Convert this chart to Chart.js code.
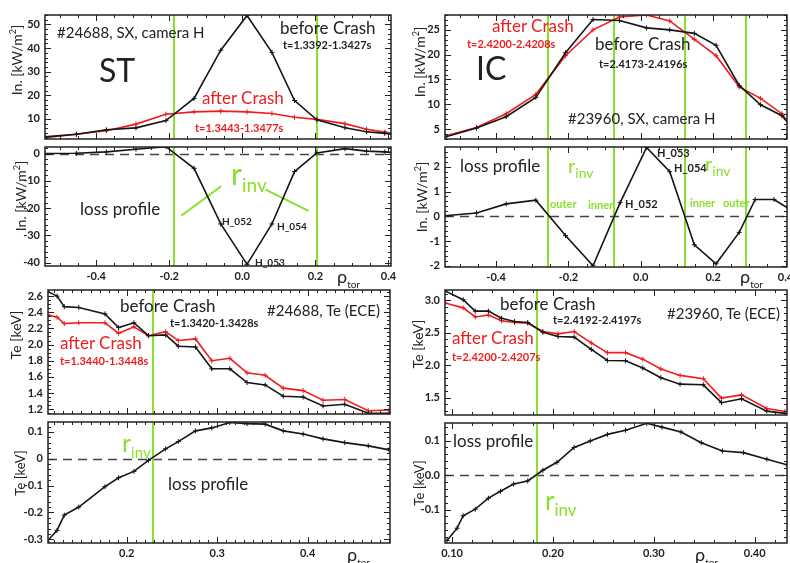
<!DOCTYPE html>
<html>
<head>
<meta charset="utf-8">
<script src="https://cdn.jsdelivr.net/npm/chart.js@4.4.1/dist/chart.umd.min.js"></script>
<style>
  html, body { margin: 0; padding: 0; background: #fff; overflow: hidden; }
  #stage { position: relative; width: 790px; height: 563px; overflow: hidden; font-family: Lato, 'Open Sans', sans-serif; color: #222; }
  canvas { position: absolute; }
  .t { position: absolute; white-space: nowrap; line-height: 1; transform: translateY(-50%); }
  .yt { position: absolute; white-space: nowrap; line-height: 1; transform: translate(-50%, -50%) rotate(-90deg); }
  sub, sup { line-height: 0; }
</style>
</head>
<body>
<div id="stage"></div>
<script>
  // --- SX camera H, ST case (#24688)
  const rhoST = [-0.54, -0.454, -0.372, -0.291, -0.209, -0.132, -0.059, 0.013, 0.081, 0.143, 0.204, 0.281, 0.34, 0.39, 0.41];
  const sxBeforeST = [2.4, 3.5, 5.4, 6.2, 9.3, 18.7, 39.1, 53.8, 38.2, 17.8, 9.6, 6.3, 4.6, 3.9, 3.5];
  const sxAfterST = [2.1, 3.5, 5.0, 7.8, 12.0, 13.0, 13.3, 13.0, 12.3, 10.7, 9.8, 8.0, 5.6, 4.4, 3.8];
  const sxLossST = [0.0, 0.1, 0.6, 1.6, 2.5, -5.4, -25.8, -40.6, -25.8, -6.6, 0.2, 1.8, 0.9, 0.6, 0.4];

  // --- SX camera H, IC case (#23960)
  const rhoIC = [-0.541, -0.454, -0.372, -0.29, -0.208, -0.132, -0.059, 0.016, 0.08, 0.148, 0.208, 0.272, 0.331, 0.39, 0.41];
  const sxBeforeIC = [3.4, 5.2, 7.5, 11.4, 20.4, 27.1, 26.9, 25.4, 25.0, 24.3, 21.9, 13.8, 9.9, 7.7, 6.0];
  const sxAfterIC = [3.6, 5.3, 8.1, 12.0, 19.8, 25.0, 27.6, 28.0, 26.8, 23.1, 19.8, 13.5, 11.2, 8.1, 6.0];
  const rhoLossIC = [-0.541, -0.454, -0.372, -0.29, -0.208, -0.132, -0.057, 0.016, 0.08, 0.148, 0.208, 0.272, 0.316, 0.368, 0.41];
  const sxLossIC = [0.02, 0.13, 0.5, 0.65, -0.78, -2.0, 0.55, 2.78, 1.8, -1.15, -1.92, -0.65, 0.68, 0.68, 0.3];

  // --- Te (ECE), ST case
  const rhoEceST = [0.112, 0.123, 0.131, 0.147, 0.176, 0.191, 0.208, 0.224, 0.243, 0.257, 0.276, 0.294, 0.314, 0.333, 0.353, 0.373, 0.395, 0.417, 0.441, 0.467, 0.49];
  const teBeforeST = [2.66, 2.60, 2.47, 2.46, 2.38, 2.21, 2.27, 2.11, 2.12, 1.98, 1.97, 1.70, 1.70, 1.53, 1.50, 1.36, 1.35, 1.24, 1.26, 1.15, 1.15];
  const teAfterST = [2.37, 2.34, 2.26, 2.27, 2.27, 2.14, 2.22, 2.11, 2.16, 2.05, 2.07, 1.80, 1.83, 1.65, 1.62, 1.46, 1.43, 1.31, 1.32, 1.18, 1.19];
  const teLossST = [-0.308, -0.267, -0.21, -0.18, -0.104, -0.071, -0.047, -0.006, 0.037, 0.064, 0.104, 0.115, 0.135, 0.131, 0.129, 0.104, 0.092, 0.074, 0.06, 0.048, 0.033];

  // --- Te (ECE), IC case
  const rhoEceIC = [0.093, 0.111, 0.123, 0.136, 0.149, 0.162, 0.175, 0.19, 0.205, 0.221, 0.238, 0.254, 0.272, 0.289, 0.307, 0.326, 0.349, 0.367, 0.387, 0.412, 0.43];
  const teBeforeIC = [3.145, 3.01, 2.835, 2.835, 2.725, 2.675, 2.66, 2.51, 2.445, 2.435, 2.245, 2.075, 2.07, 1.96, 1.81, 1.71, 1.70, 1.425, 1.485, 1.295, 1.26];
  const teAfterIC = [2.96, 2.885, 2.745, 2.775, 2.685, 2.66, 2.65, 2.52, 2.485, 2.52, 2.345, 2.195, 2.195, 2.095, 1.945, 1.845, 1.795, 1.495, 1.545, 1.335, 1.29];
  const rhoTeLossIC = [0.095, 0.105, 0.111, 0.123, 0.136, 0.148, 0.161, 0.175, 0.19, 0.204, 0.221, 0.237, 0.254, 0.272, 0.293, 0.308, 0.327, 0.347, 0.368, 0.389, 0.412, 0.432];
  const teLossIC = [-0.19, -0.154, -0.118, -0.099, -0.067, -0.047, -0.026, -0.017, 0.014, 0.037, 0.08, 0.099, 0.118, 0.13, 0.15, 0.139, 0.125, 0.094, 0.07, 0.065, 0.046, 0.03];

  // inversion radii
  const rinvST = [-0.187, 0.204];
  const rinvIC = [-0.256, -0.073, 0.121, 0.292];
  const rinvEceST = [0.229];
  const rinvEceIC = [0.184];

  // tick labels
  const ticksRhoSX = [-0.4, -0.2, 0.0, 0.2, 0.4];
  const ticksRhoEceST = [0.2, 0.3, 0.4];
  const ticksRhoEceIC = [0.1, 0.2, 0.3, 0.4];
  const ticksSxST = [10, 20, 30, 40, 50];
  const ticksLossST = [-40, -30, -20, -10, 0];
  const ticksSxIC = [5, 10, 15, 20, 25];
  const ticksLossIC = [-2, -1, 0, 1, 2];
  const ticksTeST = [1.2, 1.4, 1.6, 1.8, 2.0, 2.2, 2.4, 2.6];
  const ticksTeLossST = [-0.3, -0.2, -0.1, 0, 0.1];
  const ticksTeIC = [1.5, 2.0, 2.5, 3.0];
  const ticksTeLossIC = [-0.1, 0, 0.1];

  const GREEN = '#88e02a';
  const RED = '#ee1d1d';
  const BLACK = '#151515';
  const stage = document.getElementById('stage');
  const tickFont = { family: 'Lato', size: 11, weight: 'bold' };

  const framePlugin = {
    id: 'frame',
    beforeDatasetsDraw(chart, args, o) {
      const { ctx, chartArea: a, scales: { x, y } } = chart;
      ctx.save();
      if (o.zero) {
        const py = Math.round(y.getPixelForValue(0)) + 0.5;
        ctx.strokeStyle = '#444';
        ctx.lineWidth = 1.5;
        ctx.setLineDash([9, 6]);
        ctx.beginPath();
        ctx.moveTo(a.left, py);
        ctx.lineTo(a.right, py);
        ctx.stroke();
        ctx.setLineDash([]);
      }
      ctx.strokeStyle = GREEN;
      ctx.lineWidth = 2;
      (o.rinv || []).forEach((v) => {
        const px = Math.round(x.getPixelForValue(v));
        ctx.beginPath();
        ctx.moveTo(px, a.top);
        ctx.lineTo(px, a.bottom);
        ctx.stroke();
      });
      (o.pointers || []).forEach(([x0, y0, x1, y1]) => {
        ctx.beginPath();
        ctx.moveTo(x.getPixelForValue(x0), y.getPixelForValue(y0));
        ctx.lineTo(x.getPixelForValue(x1), y.getPixelForValue(y1));
        ctx.stroke();
      });
      ctx.restore();
    },
    afterDraw(chart, args, o) {
      const { ctx, chartArea: a, scales: { x, y } } = chart;
      ctx.save();
      ctx.strokeStyle = '#222';
      ctx.lineWidth = 1.5;
      ctx.strokeRect(a.left, a.top, a.right - a.left, a.bottom - a.top);
      ctx.lineWidth = 1;
      const marks = (scale, major, step, horizontal) => {
        const vals = [];
        for (let v = Math.ceil(scale.min / step) * step; v <= scale.max + 1e-9; v += step) {
          vals.push([v, 3]);
        }
        major.forEach((v) => vals.push([v, 6]));
        vals.forEach(([v, len]) => {
          if (v < scale.min || v > scale.max) return;
          const p = Math.round(scale.getPixelForValue(v)) + 0.5;
          ctx.beginPath();
          if (horizontal) {
            ctx.moveTo(p, a.bottom); ctx.lineTo(p, a.bottom - len);
            ctx.moveTo(p, a.top); ctx.lineTo(p, a.top + len);
          } else {
            ctx.moveTo(a.left, p); ctx.lineTo(a.left + len, p);
            ctx.moveTo(a.right, p); ctx.lineTo(a.right - len, p);
          }
          ctx.stroke();
        });
      };
      marks(x, o.xTicks, o.xMinor, true);
      marks(y, o.yTicks, o.yMinor, false);
      ctx.restore();
    },
  };

  function panel(p) {
    const padL = 44, padT = 3, padR = 3;
    const xh = p.xLabels ? 20 : 3;
    const canvas = document.createElement('canvas');
    canvas.width = p.box.r - p.box.l + padL + padR;
    canvas.height = p.box.b - p.box.t + padT + xh;
    canvas.style.left = (p.box.l - padL) + 'px';
    canvas.style.top = (p.box.t - padT) + 'px';
    stage.appendChild(canvas);

    new Chart(canvas, {
      type: 'line',
      data: {
        datasets: p.series.map((s) => ({
          data: s.x.map((xv, i) => ({ x: xv, y: s.y[i] })),
          borderColor: s.color,
          backgroundColor: s.color,
          borderWidth: 1.6,
          pointStyle: 'cross',
          pointRadius: 2.5,
          pointBorderWidth: 1,
          tension: 0,
        })),
      },
      options: {
        responsive: false,
        animation: false,
        devicePixelRatio: 1,
        layout: { padding: { left: 0, top: padT, right: padR, bottom: 0 } },
        plugins: {
          legend: { display: false },
          tooltip: { enabled: false },
          frame: {
            zero: p.zero, rinv: p.rinv, pointers: p.pointers,
            xTicks: p.xTicks, xMinor: p.xMinor, yTicks: p.yTicks, yMinor: p.yMinor,
          },
        },
        scales: {
          x: {
            type: 'linear', min: p.xRange[0], max: p.xRange[1],
            grid: { display: false, drawTicks: false }, border: { display: false },
            afterBuildTicks: (s) => { s.ticks = p.xTicks.map((v) => ({ value: v })); },
            afterFit: (s) => { s.height = xh; s.paddingLeft = 0; s.paddingRight = 0; },
            ticks: { display: !!p.xLabels, padding: 4, color: '#222', font: tickFont, maxRotation: 0, callback: p.xFmt },
          },
          y: {
            type: 'linear', min: p.yRange[0], max: p.yRange[1],
            grid: { display: false, drawTicks: false }, border: { display: false },
            afterBuildTicks: (s) => { s.ticks = p.yTicks.map((v) => ({ value: v })); },
            afterFit: (s) => { s.width = padL; s.paddingTop = 0; s.paddingBottom = 0; },
            ticks: { padding: 5, color: '#222', font: tickFont, callback: p.yFmt },
          },
        },
      },
      plugins: [framePlugin],
    });
  }

  const f0 = (v) => v.toFixed(0);
  const f1 = (v) => v.toFixed(1);
  const f2 = (v) => v.toFixed(2);
  const f1z = (v) => (v === 0 ? '0' : v.toFixed(1));

  // left column
  panel({
    box: { l: 45, t: 13, r: 393, b: 141 }, xRange: [-0.54, 0.407], yRange: [1.5, 54],
    xTicks: ticksRhoSX, xMinor: 0.05, yTicks: ticksSxST, yMinor: 2, yFmt: f0, xFmt: f1,
    rinv: rinvST,
    series: [{ x: rhoST, y: sxBeforeST, color: BLACK }, { x: rhoST, y: sxAfterST, color: RED }],
  });
  panel({
    box: { l: 45, t: 145, r: 393, b: 266 }, xRange: [-0.54, 0.407], yRange: [-41.2, 2.4], xLabels: true,
    xTicks: ticksRhoSX, xMinor: 0.05, yTicks: ticksLossST, yMinor: 2, yFmt: f0, xFmt: f1,
    rinv: rinvST, zero: true,
    pointers: [[-0.167, -22.8, -0.058, -12], [0.064, -13.2, 0.181, -21]],
    series: [{ x: rhoST, y: sxLossST, color: BLACK }],
  });
  panel({
    box: { l: 48, t: 288, r: 392, b: 416 }, xRange: [0.113, 0.491], yRange: [1.14, 2.676],
    xTicks: ticksRhoEceST, xMinor: 0.01, yTicks: ticksTeST, yMinor: 0.05, yFmt: f1, xFmt: f1,
    rinv: rinvEceST,
    series: [{ x: rhoEceST, y: teBeforeST, color: BLACK }, { x: rhoEceST, y: teAfterST, color: RED }],
  });
  panel({
    box: { l: 48, t: 420, r: 392, b: 543 }, xRange: [0.113, 0.491], yRange: [-0.314, 0.137], xLabels: true,
    xTicks: ticksRhoEceST, xMinor: 0.01, yTicks: ticksTeLossST, yMinor: 0.02, yFmt: f1z, xFmt: f1,
    rinv: rinvEceST, zero: true,
    series: [{ x: rhoEceST, y: teLossST, color: BLACK }],
  });

  // right column
  panel({
    box: { l: 445, t: 13, r: 789, b: 141 }, xRange: [-0.541, 0.404], yRange: [3.0, 28.0],
    xTicks: ticksRhoSX, xMinor: 0.05, yTicks: ticksSxIC, yMinor: 1, yFmt: f0, xFmt: f1,
    rinv: rinvIC,
    series: [{ x: rhoIC, y: sxBeforeIC, color: BLACK }, { x: rhoIC, y: sxAfterIC, color: RED }],
  });
  panel({
    box: { l: 445, t: 145, r: 789, b: 267 }, xRange: [-0.541, 0.404], yRange: [-2.05, 2.8], xLabels: true,
    xTicks: ticksRhoSX, xMinor: 0.05, yTicks: ticksLossIC, yMinor: 0.2, yFmt: f0, xFmt: f1,
    rinv: rinvIC, zero: true,
    series: [{ x: rhoLossIC, y: sxLossIC, color: BLACK }],
  });
  panel({
    box: { l: 445, t: 288, r: 789, b: 417 }, xRange: [0.093, 0.432], yRange: [1.235, 3.16],
    xTicks: ticksRhoEceIC, xMinor: 0.02, yTicks: ticksTeIC, yMinor: 0.1, yFmt: f1, xFmt: f2,
    rinv: rinvEceIC,
    series: [{ x: rhoEceIC, y: teBeforeIC, color: BLACK }, { x: rhoEceIC, y: teAfterIC, color: RED }],
  });
  panel({
    box: { l: 445, t: 421, r: 789, b: 543 }, xRange: [0.093, 0.432], yRange: [-0.197, 0.151], xLabels: true,
    xTicks: ticksRhoEceIC, xMinor: 0.02, yTicks: ticksTeLossIC, yMinor: 0.02, yFmt: f1, xFmt: f2,
    rinv: rinvEceIC, zero: true,
    series: [{ x: rhoTeLossIC, y: teLossIC, color: BLACK }],
  });

  // text overlays
  function txt(html, x, y, size, color, weight) {
    const d = document.createElement('div');
    d.className = 't';
    d.innerHTML = html;
    d.style.left = x + 'px';
    d.style.top = y + 'px';
    d.style.fontSize = size + 'px';
    if (color) d.style.color = color;
    if (weight) d.style.fontWeight = weight;
    stage.appendChild(d);
  }
  function ytitle(html, x, y, size) {
    const d = document.createElement('div');
    d.className = 'yt';
    d.innerHTML = html;
    d.style.left = x + 'px';
    d.style.top = y + 'px';
    d.style.fontSize = size + 'px';
    stage.appendChild(d);
  }
  const rinvHtml = (r, s) => `<span style="font-size:${r}px">r</span><sub style="font-size:${s}px">inv</sub>`;
  const rhoHtml = '<span style="font-size:18px">ρ</span><sub style="font-size:10px">tor</sub>';
  const kw = 'In. [kW/m<sup style="font-size:9px">2</sup>]';

  ytitle(kw, 17, 60, 14);
  ytitle(kw, 21, 196, 14);
  ytitle(kw, 420, 62, 14);
  ytitle(kw, 422, 197, 14);
  ytitle('Te [keV]', 16, 335, 14);
  ytitle('Te [keV]', 20, 473, 13);
  ytitle('Te [keV]', 418, 344, 14);
  ytitle('Te [keV]', 419, 483, 13);

  // top-left
  txt('#24688, SX, camera H', 57, 32, 15);
  txt('ST', 99, 70, 32);
  txt('before Crash', 280, 27, 17);
  txt('t=1.3392-1.3427s', 283, 44, 11, null, 'bold');
  txt('after Crash', 202, 97, 17, RED);
  txt('t=1.3443-1.3477s', 195, 127, 11, RED, 'bold');
  // left loss
  txt('loss profile', 80, 208, 17);
  txt(rinvHtml(30, 19), 231, 173, 30, GREEN);
  txt('H_052', 222, 221, 10, null, 'bold');
  txt('H_054', 277, 226, 10, null, 'bold');
  txt('H_053', 255, 262, 10, null, 'bold');
  txt(rhoHtml, 337, 276, 18);
  // top-right
  txt('after Crash', 492, 25, 17, RED);
  txt('t=2.4200-2.4208s', 467, 43, 11, RED, 'bold');
  txt('IC', 476, 68, 32);
  txt('before Crash', 595, 43, 17);
  txt('t=2.4173-2.4196s', 599, 63, 11, null, 'bold');
  txt('#23960, SX, camera H', 568, 118, 15);
  // right loss
  txt('loss profile', 460, 165, 17);
  txt(rinvHtml(20, 14), 568, 165, 20, GREEN);
  txt(rinvHtml(20, 14), 705, 163, 20, GREEN);
  txt('outer', 550, 203, 11, GREEN, 'bold');
  txt('inner', 588, 204, 11, GREEN, 'bold');
  txt('inner', 690, 202, 11, GREEN, 'bold');
  txt('outer', 723, 202, 11, GREEN, 'bold');
  txt('H_052', 625, 203, 11, null, 'bold');
  txt('H_053', 657, 152, 11, null, 'bold');
  txt('H_054', 674, 167, 11, null, 'bold');
  txt(rhoHtml, 740, 276, 18);
  // left Te
  txt('before Crash', 120, 305, 17);
  txt('t=1.3420-1.3428s', 170, 322, 11, null, 'bold');
  txt('#24688, Te (ECE)', 267, 310, 15);
  txt('after Crash', 60, 342, 17, RED);
  txt('t=1.3440-1.3448s', 60, 360, 11, RED, 'bold');
  // left Te loss
  txt(rinvHtml(25, 15), 122, 442, 25, GREEN);
  txt('loss profile', 168, 483, 17);
  txt(rhoHtml, 347, 554, 18);
  // right Te
  txt('before Crash', 500, 303, 17);
  txt('t=2.4192-2.4197s', 553, 319, 11, null, 'bold');
  txt('#23960, Te (ECE)', 667, 313, 15);
  txt('after Crash', 452, 337, 17, RED);
  txt('t=2.4200-2.4207s', 452, 356, 11, RED, 'bold');
  // right Te loss
  txt('loss profile', 453, 440, 17);
  txt(rinvHtml(26, 17), 545, 500, 26, GREEN);
  txt(rhoHtml, 695, 554, 18);
</script>
</body>
</html>
